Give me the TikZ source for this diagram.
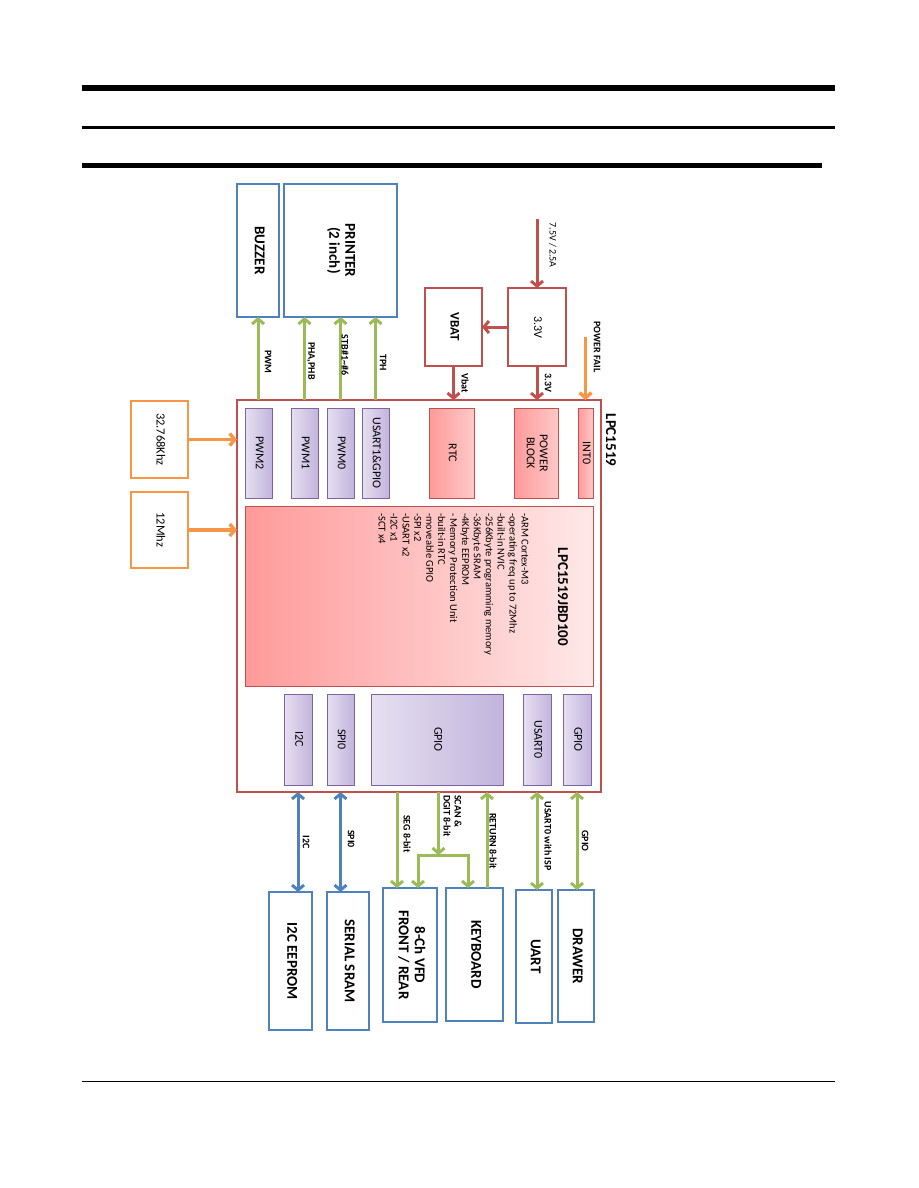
\documentclass[tikz,border=0pt]{standalone}
\usepackage{fontspec}
\setmainfont{Carlito}
\usetikzlibrary{arrows.meta}
\definecolor{boxblue}{HTML}{4F81BD}
\definecolor{boxred}{HTML}{C0504D}
\definecolor{boxorange}{HTML}{F79646}
\definecolor{linkgreen}{HTML}{9BBB59}
\definecolor{blkpurple}{HTML}{8064A2}
\definecolor{purpleL}{HTML}{E6E0F1}
\definecolor{purpleR}{HTML}{C2B4DD}
\definecolor{pinkL}{HTML}{FF9A9A}
\definecolor{pinkR}{HTML}{FFC8C8}
\definecolor{coreR}{HTML}{FFE8E8}
\newcommand{\vt}[1]{\rotatebox{-90}{\begin{tabular}{@{}c@{}}#1\end{tabular}}}

\begin{document}
\begin{tikzpicture}[x=1pt, y=-1pt,
    >={Straight Barb[length=5pt,width=12pt]},
    box/.style={draw, line width=2pt, fill=white, inner sep=0pt, outer sep=0pt},
    extbox/.style={box, draw=boxblue, font=\fontsize{15}{16}\selectfont\bfseries},
    pwrbox/.style={box, draw=boxred},
    clkbox/.style={box, draw=boxorange, font=\fontsize{12.5}{14}\selectfont},
    pblk/.style={draw=blkpurple, line width=0.8pt, left color=purpleL, right color=purpleR,
      inner sep=0pt, minimum height=90, font=\fontsize{12}{13}\selectfont},
    rblk/.style={pblk, draw=boxred, left color=pinkL, right color=pinkR},
    lbl/.style={rotate=-90, inner sep=0pt, font=\fontsize{10}{11}\selectfont\bfseries},
    glink/.style={draw=linkgreen, line width=3pt},
    blink/.style={draw=boxblue, line width=3pt},
    rlink/.style={draw=boxred, line width=3pt},
    olink/.style={draw=boxorange, line width=3.5pt}]
  \useasboundingbox (0,0) rectangle (918,1188);

  % page rules
  \draw[line width=6pt] (82,88) -- (835,88);
  \draw[line width=3pt] (82,127.5) -- (835,127.5);
  \draw[line width=5pt] (82,165.5) -- (822,165.5);
  \draw[line width=1pt] (82,1081) -- (835,1081);

  % chip
  \node[box, draw=boxred, line width=1.8pt, minimum width=364, minimum height=392] (lpc) at (419,596) {};
  \node[rotate=-90, font=\fontsize{15}{17}\selectfont\bfseries] (lpcname) at (611,440) {LPC1519};

  \node[pblk, minimum width=27] (pwm2) at (258.5,453) {\vt{PWM2}};
  \node[pblk, minimum width=27] (pwm1) at (304.5,453) {\vt{PWM1}};
  \node[pblk, minimum width=27] (pwm0) at (340.5,453) {\vt{PWM0}};
  \node[pblk, minimum width=27] (usart1) at (375.5,453) {\vt{USART1\&GPIO}};
  \node[rblk, minimum width=45] (rtc) at (451.5,453) {\vt{RTC}};
  \node[rblk, minimum width=44] (pwrblk) at (536,453) {\vt{POWER\\BLOCK}};
  \node[rblk, minimum width=15] (int0) at (585.5,453) {\vt{INT0}};

  \node[draw=boxred, line width=0.8pt, left color=pinkL, right color=coreR, inner sep=0pt,
    minimum width=348, minimum height=180] (core) at (419,596) {};
  \node[rotate=-90, font=\fontsize{15}{17}\selectfont\bfseries] (coretitle) at (563,597) {LPC1519JBD100};
  \node[rotate=-90, anchor=west, align=left, inner sep=0pt, font=\fontsize{10.5}{11.9}\selectfont]
    (corelist) at (453.5,513) {-ARM Cortex-M3\\-operating freq up to 72Mhz\\-built-in NVIC\\
    -256Kbyte programming memory\\-36Kbyte SRAM\\-4Kbyte EEPROM\\- Memory Protection Unit\\
    -built-in RTC\\-moveable GPIO\\-SPI x2\\-USART x2\\-I2C x1\\-SCT x4};

  \node[pblk, minimum width=28, minimum height=91] (i2c) at (298,739.5) {\vt{I2C}};
  \node[pblk, minimum width=27, minimum height=91] (spi0) at (340.5,739.5) {\vt{SPI0}};
  \node[pblk, minimum width=132, minimum height=91] (gpiob) at (437,739.5) {\vt{GPIO}};
  \node[pblk, minimum width=28, minimum height=91] (usart0) at (537,739.5) {\vt{USART0}};
  \node[pblk, minimum width=28, minimum height=91] (gpio2) at (577,739.5) {\vt{GPIO}};

  % outside blocks
  \node[extbox, minimum width=42, minimum height=133] (buzzer) at (258,250.5) {\vt{BUZZER}};
  \node[extbox, minimum width=113, minimum height=133] (printer) at (340.5,250.5) {\vt{PRINTER\\(2 inch)}};
  \node[pwrbox, minimum width=57, minimum height=78, font=\fontsize{13}{15}\selectfont\bfseries] (vbat) at (453.5,327) {\vt{VBAT}};
  \node[pwrbox, minimum width=58, minimum height=78, font=\fontsize{12}{14}\selectfont] (reg) at (537,327) {\vt{3.3V}};
  \node[clkbox, minimum width=57, minimum height=77] (xtal32) at (159.5,439.5) {\vt{32.768Khz}};
  \node[clkbox, minimum width=57, minimum height=76] (xtal12) at (159.5,530) {\vt{12Mhz}};
  \node[extbox, minimum width=43, minimum height=138] (eeprom) at (290.5,961) {\vt{I2C EEPROM}};
  \node[extbox, minimum width=42, minimum height=138] (sram) at (348,961) {\vt{SERIAL SRAM}};
  \node[extbox, minimum width=54, minimum height=134] (vfd) at (410,955) {\vt{8-Ch VFD\\FRONT / REAR}};
  \node[extbox, minimum width=57, minimum height=133] (kbd) at (474.5,954.5) {\vt{KEYBOARD}};
  \node[extbox, minimum width=36, minimum height=133] (uart) at (534,956.5) {\vt{UART}};
  \node[extbox, minimum width=36, minimum height=132] (drawer) at (576,956) {\vt{DRAWER}};

  % top links
  \draw[glink,->] (buzzer |- lpc.north) -- (buzzer.south);
  \foreach \b in {pwm1,pwm0,usart1}
    \draw[glink,->] (\b |- lpc.north) -- (\b |- printer.south);
  \foreach \n/\x/\y/\t in {lpwm/268/362/PWM, lpha/311/361/{PHA,PHB},
      lstb/345/355/{STB\#1\textasciitilde\#6}, ltph/383/363/TPH}
    \node[lbl] (\n) at (\x,\y) {\t};

  % power
  \coordinate (vin) at (537,219);
  \coordinate (pfail) at (585.5,337);
  \draw[rlink,->] (vin) -- (reg.north);
  \draw[rlink,->] (reg.west) -- (vbat.east);
  \draw[rlink,->] (reg.south) -- (reg |- lpc.north);
  \draw[rlink,->] (vbat.south) -- (vbat |- lpc.north);
  \draw[olink,->] (pfail) -- (int0 |- lpc.north);
  \node[lbl, font=\fontsize{10}{11}\selectfont] (lvin) at (553,245) {7.5V / 2.5A};
  \node[lbl] (l33) at (548,383) {3.3V};
  \node[lbl] (lvbat) at (465,383) {Vbat};
  \node[lbl] (lpf) at (597,347) {POWER FAIL};

  % clocks
  \draw[olink,->] (xtal32.east) -- (xtal32.east -| lpc.west);
  \draw[olink,->] (xtal12.east) -- (xtal12.east -| lpc.west);

  % bottom links
  \coordinate (seg) at ([xshift=-13pt]vfd.north);
  \coordinate (vfdin) at ([xshift=8pt]vfd.north);
  \coordinate (kbdin) at ([xshift=-6.5pt]kbd.north);
  \coordinate (ret) at ([xshift=12.5pt]kbd.north);
  \coordinate (br) at (438.5,855);
  \draw[blink,<->] (i2c |- lpc.south) -- (i2c |- eeprom.north);
  \draw[blink,<->] (spi0 |- lpc.south) -- (spi0 |- sram.north);
  \draw[glink,->] (seg |- lpc.south) -- (seg);
  \draw[glink,->] (br |- lpc.south) -- (br);
  \draw[glink,<->] (vfdin) -- (vfdin |- br) -- (kbdin |- br) -- (kbdin);
  \draw[glink,->] (ret) -- (ret |- lpc.south);
  \draw[glink,<->] (usart0 |- lpc.south) -- (usart0 |- uart.north);
  \draw[glink,<->] (gpio2 |- lpc.south) -- (gpio2 |- drawer.north);
  \foreach \n/\x/\y/\t in {li2c/306/842/I2C, lspi/351/839/SPI0, lseg/407/834/SEG 8-bit,
      lret/493/841/RETURN 8-bit, lisp/548/836/USART0 with ISP, lgpio/585/841/GPIO}
    \node[lbl] (\n) at (\x,\y) {\t};
  \node[lbl, anchor=west, align=left] (lscan) at (452.5,795) {SCAN \&\\DGIT 8-bit};
\end{tikzpicture}
\end{document}
